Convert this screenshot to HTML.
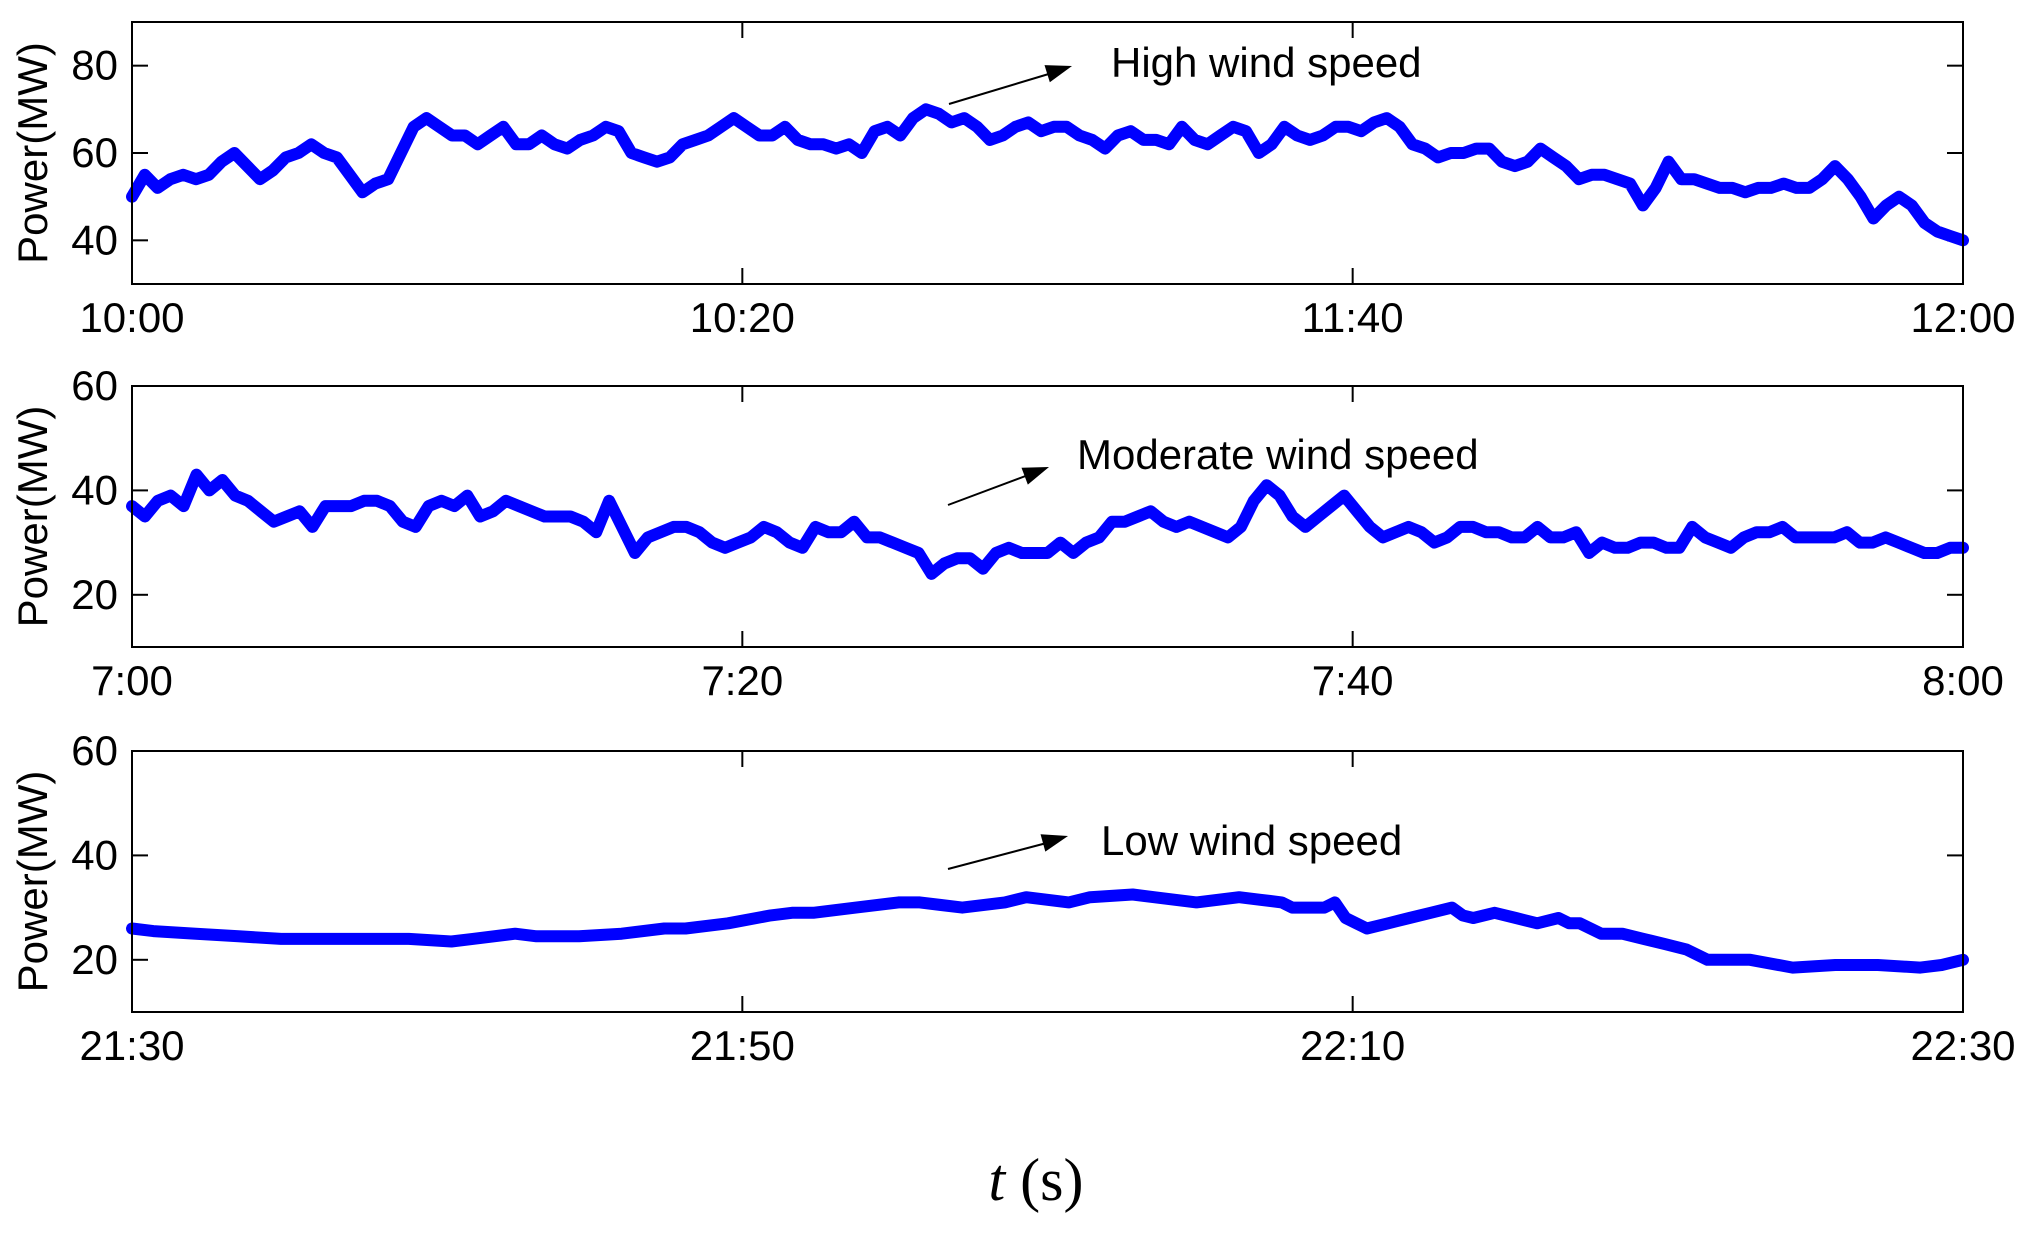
<!DOCTYPE html>
<html><head><meta charset="utf-8"><style>
html,body{margin:0;padding:0;background:#fff;}
svg{display:block;font-family:"Liberation Sans",sans-serif;}
</style></head><body>
<svg id="chart" width="2030" height="1233" viewBox="0 0 2030 1233"></svg>
<script>
// Panel 1: High wind speed (10:00-12:00), evenly spaced samples
const highValues = [50,55,52,54,55,54,55,58,60,57,54,56,59,60,62,60,59,55,51,53,54,60,66,68,66,64,64,62,64,66,62,62,64,62,61,63,64,66,65,60,59,58,59,62,63,64,66,68,66,64,64,66,63,62,62,61,62,60,65,66,64,68,70,69,67,68,66,63,64,66,67,65,66,66,64,63,61,64,65,63,63,62,66,63,62,64,66,65,60,62,66,64,63,64,66,66,65,67,68,66,62,61,59,60,60,61,61,58,57,58,61,59,57,54,55,55,54,53,48,52,58,54,54,53,52,52,51,52,52,53,52,52,54,57,54,50,45,48,50,48,44,42,41,40];
const highTicks = ["10:00","10:20","11:40","12:00"];
// Panel 2: Moderate wind speed (7:00-8:00)
const modValues = [37,35,38,39,37,43,40,42,39,38,36,34,35,36,33,37,37,37,38,38,37,34,33,37,38,37,39,35,36,38,37,36,35,35,35,34,32,38,33,28,31,32,33,33,32,30,29,30,31,33,32,30,29,33,32,32,34,31,31,30,29,28,24,26,27,27,25,28,29,28,28,28,30,28,30,31,34,34,35,36,34,33,34,33,32,31,33,38,41,39,35,33,35,37,39,36,33,31,32,33,32,30,31,33,33,32,32,31,31,33,31,31,32,28,30,29,29,30,30,29,29,33,31,30,29,31,32,32,33,31,31,31,31,32,30,30,31,30,29,28,28,29,29];
const modTicks = ["7:00","7:20","7:40","8:00"];
// Panel 3: Low wind speed (21:30-22:30), time in minutes from 21:30
const lowTimes = [0,1,3,5,7,9,11,13,15,16,18,19,21,23,25,26,28,30,31,32,34,36,37,38,39,41,42,43,44,45,47,48,49,50,52,53,54,54.5,56,56.5,57,57.5,58,59,60,61,62,62.5,63,64,65,66,67,67.5,68,69,70,71,72,73,74,75,76,78,80,82,84,85,86];
const lowValues = [26,25.5,25,24.5,24,24,24,24,23.5,24,25,24.5,24.5,25,26,26,27,28.5,29,29,30,31,31,30.5,30,31,32,31.5,31,32,32.5,32,31.5,31,32,31.5,31,30,30,31,28,27,26,27,28,29,30,28.5,28,29,28,27,28,27,27,25,25,24,23,22,20,20,20,18.5,19,19,18.5,19,20];
const lowTicks = ["21:30","21:50","22:10","22:30"];
const yTicks = [[40,60,80],[20,40,60],[20,40,60]];
const yLims = [[30,90],[10,60],[10,60]];

const NS="http://www.w3.org/2000/svg";
const svg=document.getElementById('chart');
const L=132,R=1963;
const panels=[{top:22,bot:284},{top:386,bot:647},{top:751,bot:1012}];
function mk(t,a,p){const e=document.createElementNS(NS,t);for(const k in a)e.setAttribute(k,a[k]);(p||svg).appendChild(e);return e;}

const series=[
 {vals:highValues,times:highValues.map((v,i)=>i/(highValues.length-1)),ticks:highTicks,label:"High wind speed",tx:1111,ty:77,a:[949,104,1072,66]},
 {vals:modValues,times:modValues.map((v,i)=>i/(modValues.length-1)),ticks:modTicks,label:"Moderate wind speed",tx:1077,ty:469,a:[948,505,1049,467]},
 {vals:lowValues,times:lowTimes.map(t=>t/86),ticks:lowTicks,label:"Low wind speed",tx:1101,ty:855,a:[948,869,1068,836]}
];
series.forEach((s,pi)=>{
 const P=panels[pi],[y0,y1]=yLims[pi];
 const g=mk('g',{});
 
 
 const xs=f=>L+f*(R-L);
 const ys=v=>P.bot-(v-y0)/(y1-y0)*(P.bot-P.top);
 yTicks[pi].forEach(v=>{
  const y=ys(v);
  const t1=mk('line',{x1:L,x2:L+16,y1:y,y2:y,stroke:'#000','stroke-width':2},g);
  
  
  mk('line',{x1:R-16,x2:R,y1:y,y2:y,stroke:'#000','stroke-width':2},g);
  const tl=mk('text',{x:L-14,y:y+14,'font-size':42,'text-anchor':'end'},g);
  tl.textContent=v;
  
  
 });
 s.ticks.forEach((lab,i)=>{
  const x=xs(i/3);
  mk('line',{x1:x,x2:x,y1:P.bot,y2:P.bot-16,stroke:'#000','stroke-width':2},g);
  mk('line',{x1:x,x2:x,y1:P.top,y2:P.top+16,stroke:'#000','stroke-width':2},g);
  const tl=mk('text',{x:x,y:P.bot+48,'font-size':42,'text-anchor':'middle'},g);
  tl.textContent=lab;
  
  
 });
 const d=s.vals.map((v,i)=>(i?'L':'M')+xs(s.times[i]).toFixed(1)+','+ys(v).toFixed(1)).join(' ');
 const ln=mk('path',{d:d,fill:'none',stroke:'#0000ff','stroke-width':12,'stroke-linejoin':'round','stroke-linecap':'round'},g);
 
 
 const fr=mk('rect',{x:L,y:P.top,width:R-L,height:P.bot-P.top,fill:'none',stroke:'#000','stroke-width':2},g);
 
 
 const yl=mk('text',{transform:`translate(47,${(P.top+P.bot)/2}) rotate(-90)`,'font-size':42,'text-anchor':'middle'},g);
 yl.textContent='Power(MW)';
 
 
 const an=mk('text',{x:s.tx,y:s.ty,'font-size':42},g);
 an.textContent=s.label;
 
 
 const [ax1,ay1,ax2,ay2]=s.a;
 mk('line',{x1:ax1,y1:ay1,x2:ax2-10,y2:ay2+4,stroke:'#000','stroke-width':2},g);
 const ang=Math.atan2(ay2-ay1,ax2-ax1),hl=26,hw=9;
 const bx=ax2-hl*Math.cos(ang),by=ay2-hl*Math.sin(ang);
 const px=-Math.sin(ang)*hw,py=Math.cos(ang)*hw;
 const ah=mk('polygon',{points:`${ax2},${ay2} ${bx+px},${by+py} ${bx-px},${by-py}`,fill:'#000'},g);
 
 
});
const xt=mk('text',{x:1036,y:1200,'font-size':60,'text-anchor':'middle','font-family':'"Liberation Serif",serif'});
xt.innerHTML='<tspan font-style="italic">t</tspan> (s)';


</script>
</body></html>
